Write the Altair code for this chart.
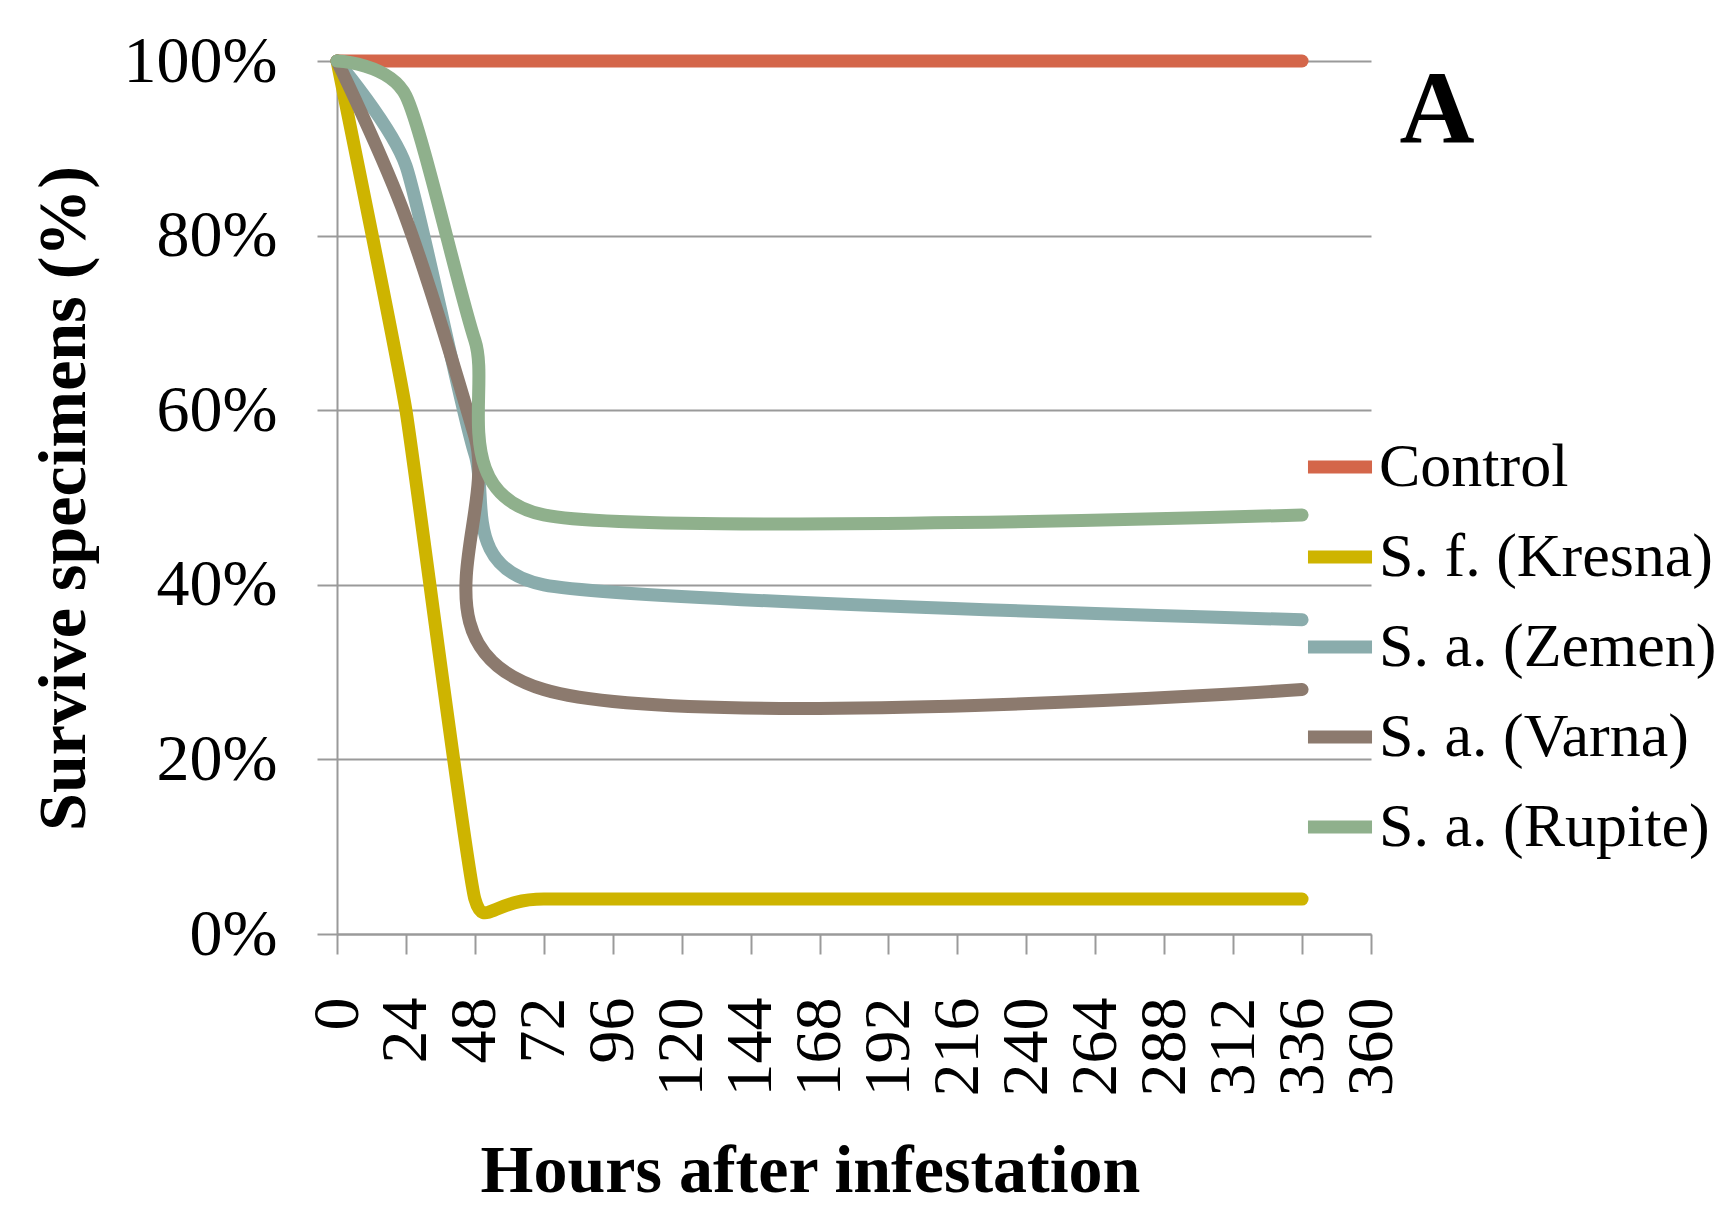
import altair as alt
import pandas as pd

# ---- data ----
hours = [0, 24, 48, 72, 336]
series_names = ["Control", "S. f. (Kresna)", "S. a. (Zemen)", "S. a. (Varna)", "S. a. (Rupite)"]
control = [100, 100, 100, 100, 100]
kresna = [100, 60, 4, 4, 4]
zemen = [100, 88, 55, 40, 36]
varna = [100, 82, 57, 28, 28]
rupite = [100, 96, 68, 48, 48]
series_colors = ["#D4664A", "#CEB400", "#8AACAC", "#8C7A6E", "#8FB08C"]
x_ticks = list(range(0, 361, 24))
y_ticks = [0, 20, 40, 60, 80, 100]
panel_label = ["A"]

# smoothing tension per series (line style, mimics the spreadsheet's smoothed lines)
series_tension = [0.5, 0.62, 0.4, 0.0, 0.3]

rows = []
for name, vals in zip(series_names, [control, kresna, zemen, varna, rupite]):
    for h, v in zip(hours, vals):
        rows.append({"hours": h, "survival": v, "series": name})
df = pd.DataFrame(rows)

FONT = "Liberation Serif"
GRAY = "#9a9a9a"

x_enc = alt.X(
    "hours:Q",
    scale=alt.Scale(domain=[0, 360], nice=False),
    axis=alt.Axis(
        values=x_ticks, title="Hours after infestation", grid=False,
        labelAngle=270, labelAlign="right", labelBaseline="middle",
        labelFlush=False, labelOverlap=False, labelPadding=43,
        tickSize=20, tickWidth=2, tickColor=GRAY,
        domainColor=GRAY, domainWidth=2,
        labelFont=FONT, labelFontSize=66, labelColor="black",
        titleFont=FONT, titleFontSize=68, titleFontWeight="bold", titleColor="black",
        titleX=473, titleY=257, titleAlign="center", titleBaseline="alphabetic",
    ),
)
y_enc = alt.Y(
    "survival:Q",
    scale=alt.Scale(domain=[0, 100], nice=False),
    axis=alt.Axis(
        values=y_ticks, labelExpr="datum.value + '%'",
        title="Survive specimens (%)",
        grid=True, gridColor=GRAY, gridWidth=2,
        tickSize=20, tickWidth=2, tickColor=GRAY,
        domainColor=GRAY, domainWidth=2,
        labelFont=FONT, labelFontSize=66, labelColor="black", labelPadding=40,
        labelAlign="right", labelBaseline="middle",
        titleFont=FONT, titleFontSize=68, titleFontWeight="bold", titleColor="black",
        titleAngle=270, titleX=-253, titleY=437, titleAlign="center",
        titleBaseline="alphabetic",
    ),
)
color_enc = alt.Color(
    "series:N",
    scale=alt.Scale(domain=series_names, range=series_colors),
    title=None,
    legend=alt.Legend(
        orient="none", legendX=964, legendY=367,
        symbolType="stroke", symbolSize=4100, symbolStrokeWidth=13,
        labelFont=FONT, labelFontSize=62, labelColor="black", labelLimit=0,
        labelOffset=0, rowPadding=20, padding=0,
    ),
)

layers = []
for name, tens in zip(series_names, series_tension):
    layers.append(
        alt.Chart(df).mark_line(
            strokeWidth=13, strokeCap="round", strokeJoin="round",
            interpolate="cardinal", tension=tens,
        ).encode(x=x_enc, y=y_enc, color=color_enc).transform_filter(alt.datum.series == name)
    )

label_layer = alt.Chart(pd.DataFrame({"t": panel_label})).mark_text(
    font=FONT, fontSize=104, fontWeight="bold", align="center",
    baseline="alphabetic", color="black"
).encode(x=alt.value(1100), y=alt.value(82), text="t:N")

chart = alt.layer(*layers, label_layer).properties(
    width=1034, height=873,
    autosize=alt.AutoSizeParams(type="none"),
    padding={"left": 329, "top": 53, "right": 348, "bottom": 273},
    background="white",
).configure_view(stroke="transparent")

chart.save("out.html", embed_options={"renderer": "svg", "actions": False})
